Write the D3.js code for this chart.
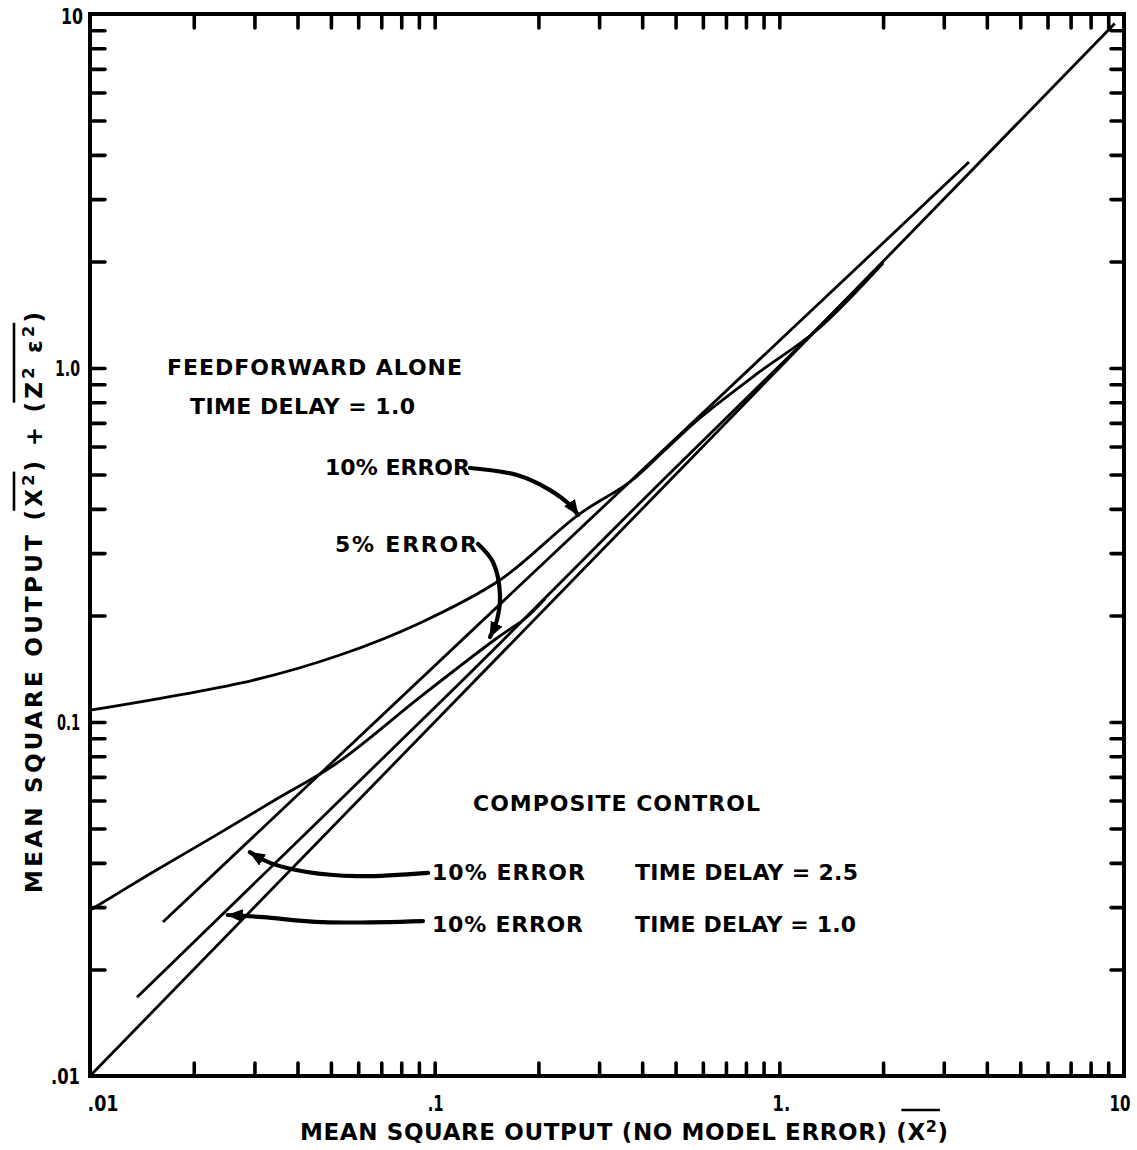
<!DOCTYPE html>
<html>
<head>
<meta charset="utf-8">
<script src="https://cdn.jsdelivr.net/npm/d3@7"></script>
<style>
  html, body { margin: 0; padding: 0; background: #fff; }
  svg text { font-family: "DejaVu Sans", sans-serif; font-weight: bold; fill: #000; }
  svg text.tlab { font-family: "DejaVu Sans Condensed", "DejaVu Sans", sans-serif; }
</style>
</head>
<body>
<div class="chart"></div>
<script>
// values, [x, y] with x = mean square output (no model error)
var diagonal = [[0.01, 0.01], [9.4, 9.4]];
var feedforward10 = [[0.01, 0.108], [0.0299, 0.1314], [0.0531, 0.1546], [0.0907, 0.1905], [0.1547, 0.2518],
                     [0.2606, 0.3843], [0.3687, 0.4765], [0.4659, 0.5868], [0.5887, 0.7226], [0.8672, 0.9681],
                     [1.286, 1.28], [2.0, 1.98]];
var feedforward5 = [[0.01, 0.0294], [0.0149, 0.0372], [0.0227, 0.0473], [0.0344, 0.0602], [0.0521, 0.0766],
                    [0.0907, 0.1176], [0.1517, 0.1727], [0.1853, 0.198], [0.209, 0.2227]];
var composite25 = [[0.01628, 0.02723], [3.55, 3.818]];
var composite10 = [[0.01369, 0.0167], [0.1208, 0.1314], [0.2694, 0.2868], [0.4659, 0.489], [1.252, 1.256], [2.0, 1.992]];

var decades = [0.01, 0.1, 1, 10];
var xTickLabels = [".01", ".1", "1.", "10"];
var yTickLabels = [".01", "0.1", "1.0", "10"];

// arrows of the annotations, in the chart's own units
var arrowFF10 = [[0.1266, 0.5219], [0.1733, 0.4984], [0.2161, 0.452], [0.2469, 0.4102], [0.2606, 0.3843]];
var arrowFF5 = [[0.1336, 0.3183], [0.1476, 0.2831], [0.1547, 0.2285], [0.1516, 0.1941], [0.1447, 0.1738]];
var arrowComp25 = [[0.0957, 0.0375], [0.0595, 0.0367], [0.0426, 0.0377], [0.0333, 0.04], [0.0291, 0.0429]];
var arrowComp10 = [[0.0925, 0.0274], [0.0474, 0.0272], [0.0318, 0.0281], [0.0251, 0.0285]];

var width = 1137, height = 1150;
var plotL = 90, plotR = 1124, plotT = 14, plotB = 1076;

var svg = d3.select(".chart").append("svg")
    .attr("width", width)
    .attr("height", height);

var x = d3.scaleLog().domain([0.01, 10]).range([plotL, plotR]);
var y = d3.scaleLog().domain([0.01, 10]).range([plotB, plotT]);

svg.append("defs").append("marker")
    .attr("id", "head")
    .attr("markerUnits", "userSpaceOnUse")
    .attr("markerWidth", 18).attr("markerHeight", 14)
    .attr("refX", 15).attr("refY", 6.5)
    .attr("orient", "auto")
    .append("path")
    .attr("d", "M0,0 L16,6.5 L0,13 Z")
    .attr("fill", "#000");

// frame + inward ticks on all four sides
var minor = x.ticks().filter(function (v) { return v > 0.0101 && v < 9.99; });

function tickStyle(g) {
    g.select(".domain").remove();
    g.selectAll(".tick line").attr("stroke", "#000").attr("stroke-width", 3.6).attr("stroke-linecap", "round");
}
svg.append("g").attr("transform", "translate(0," + plotB + ")")
    .call(d3.axisBottom(x).tickValues(minor).tickSize(-13).tickFormat("")).call(tickStyle);
svg.append("g").attr("transform", "translate(0," + plotT + ")")
    .call(d3.axisTop(x).tickValues(minor).tickSize(-14).tickFormat("")).call(tickStyle);
svg.append("g").attr("transform", "translate(" + plotL + ",0)")
    .call(d3.axisLeft(y).tickValues(minor).tickSize(-15).tickFormat("")).call(tickStyle);
svg.append("g").attr("transform", "translate(" + plotR + ",0)")
    .call(d3.axisRight(y).tickValues(minor).tickSize(-13).tickFormat("")).call(tickStyle);

svg.append("rect")
    .attr("x", plotL).attr("y", plotT)
    .attr("width", plotR - plotL).attr("height", plotB - plotT)
    .attr("fill", "none").attr("stroke", "#000").attr("stroke-width", 4);

// tick labels
var xLabelShift = [13, 1, 2, -4];
var xLabelWidth = [31, 16, 18, 21];
svg.selectAll(".xlab").data(decades).enter().append("text")
    .attr("class", "tlab")
    .attr("x", function (d, i) { return x(d) + xLabelShift[i]; })
    .attr("y", 1111)
    .attr("text-anchor", "middle")
    .attr("font-size", 21)
    .attr("textLength", function (d, i) { return xLabelWidth[i]; })
    .attr("lengthAdjust", "spacingAndGlyphs")
    .text(function (d, i) { return xTickLabels[i]; });

var yLabelWidth = [29, 23, 25, 22];
svg.selectAll(".ylab").data(decades).enter().append("text")
    .attr("class", "tlab")
    .attr("x", function (d, i) { return i == 3 ? 83 : 80; })
    .attr("y", function (d, i) { return y(d) + (i == 3 ? 10 : 8); })
    .attr("text-anchor", "end")
    .attr("font-size", 21)
    .attr("textLength", function (d, i) { return yLabelWidth[i]; })
    .attr("lengthAdjust", "spacingAndGlyphs")
    .text(function (d, i) { return yTickLabels[i]; });

// curves
var line = d3.line()
    .x(function (d) { return x(d[0]); })
    .y(function (d) { return y(d[1]); });
var smooth = d3.line()
    .x(function (d) { return x(d[0]); })
    .y(function (d) { return y(d[1]); })
    .curve(d3.curveCatmullRom.alpha(0.5));

[diagonal, composite25].forEach(function (s) {
    svg.append("path").attr("d", line(s))
        .attr("fill", "none").attr("stroke", "#000").attr("stroke-width", 2.8);
});
[feedforward10, feedforward5, composite10].forEach(function (s) {
    svg.append("path").attr("d", smooth(s))
        .attr("fill", "none").attr("stroke", "#000").attr("stroke-width", 2.8);
});

// annotation arrows
var arrowLine = d3.line()
    .x(function (d) { return x(d[0]); })
    .y(function (d) { return y(d[1]); })
    .curve(d3.curveCatmullRom);
[arrowFF10, arrowFF5, arrowComp25, arrowComp10].forEach(function (a) {
    svg.append("path").attr("d", arrowLine(a))
        .attr("fill", "none").attr("stroke", "#000").attr("stroke-width", 4.2)
        .attr("stroke-linecap", "round")
        .attr("marker-end", "url(#head)");
});

// annotation text
var notes = [
    { t: "FEEDFORWARD ALONE", x: 167, y: 375, w: 295 },
    { t: "TIME DELAY = 1.0", x: 190, y: 414, w: 225 },
    { t: "10% ERROR", x: 325, y: 475, w: 145 },
    { t: "5% ERROR", x: 335, y: 552, w: 142 },
    { t: "COMPOSITE CONTROL", x: 473, y: 811, w: 287 },
    { t: "10% ERROR", x: 432, y: 880, w: 153 },
    { t: "TIME DELAY = 2.5", x: 635, y: 880, w: 223 },
    { t: "10% ERROR", x: 432, y: 932, w: 151 },
    { t: "TIME DELAY = 1.0", x: 635, y: 932, w: 221 }
];
svg.selectAll(".note").data(notes).enter().append("text")
    .attr("class", "note")
    .attr("x", function (d) { return d.x; })
    .attr("y", function (d) { return d.y; })
    .attr("font-size", 22)
    .attr("textLength", function (d) { return d.w; })
    .attr("lengthAdjust", "spacing")
    .text(function (d) { return d.t; });

// axis titles with superscripts and overbars
function overbar(g, textNode, i0, i1, barY, padL, padR) {
    var a = textNode.getStartPositionOfChar(i0).x - padL;
    var b = textNode.getEndPositionOfChar(i1).x + padR;
    g.append("line").attr("x1", a).attr("x2", b).attr("y1", barY).attr("y2", barY)
        .attr("stroke", "#000").attr("stroke-width", 2.6);
}

var xt = svg.append("g");
var xText = xt.append("text").attr("x", 300).attr("y", 1140).attr("font-size", 23)
    .attr("textLength", 648).attr("lengthAdjust", "spacing");
var xPart = "MEAN SQUARE OUTPUT (NO MODEL ERROR) (X";
xText.append("tspan").text(xPart);
xText.append("tspan").attr("dy", -8).attr("font-size", 16).text("2");
xText.append("tspan").attr("dy", 8).text(")");
overbar(xt, xText.node(), xPart.length - 1, xPart.length, 1110, 6, 3);

var yt = svg.append("g").attr("transform", "translate(42,893) rotate(-90)");
var yText = yt.append("text").attr("x", 0).attr("y", 0).attr("font-size", 23)
    .attr("textLength", 581).attr("lengthAdjust", "spacing");
var p1 = "MEAN SQUARE OUTPUT (X", p2 = ") + (Z", p3 = " \u03b5";
yText.append("tspan").text(p1);
yText.append("tspan").attr("dy", -8).attr("font-size", 16).text("2");
yText.append("tspan").attr("dy", 8).text(p2);
yText.append("tspan").attr("dy", -8).attr("font-size", 16).text("2");
yText.append("tspan").attr("dy", 8).text(p3);
yText.append("tspan").attr("dy", -8).attr("font-size", 16).text("2");
yText.append("tspan").attr("dy", 8).text(")");
var iX = p1.length - 1;
var iZ = p1.length + 1 + p2.length - 1;
var iLast2 = p1.length + 1 + p2.length + 1 + p3.length;
overbar(yt, yText.node(), iX, iX + 1, -28, 4, 3);
overbar(yt, yText.node(), iZ, iLast2, -28, 4, 3);
</script>
</body>
</html>
